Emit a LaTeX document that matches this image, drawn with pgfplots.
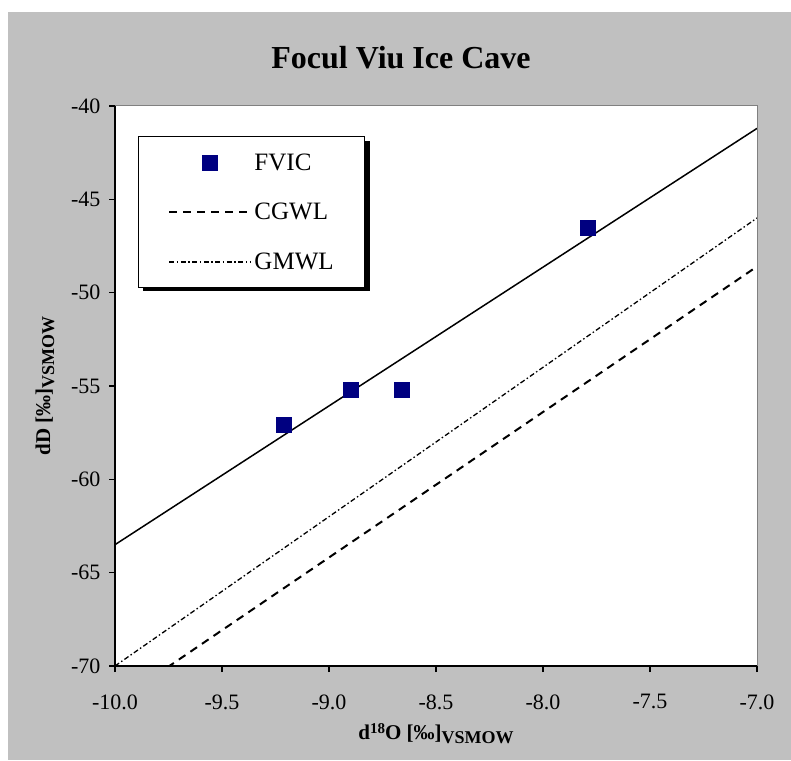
\documentclass[border=0pt]{standalone}
\usepackage{fontspec}
\setmainfont{Liberation Serif}
\usepackage{pgfplots}
\pgfplotsset{compat=1.18}

\definecolor{chartgray}{HTML}{C0C0C0}
\definecolor{framegray}{HTML}{808080}
\definecolor{fvicblue}{HTML}{000080}

\begin{document}
\begin{tikzpicture}[x=1pt,y=1pt]
\useasboundingbox (0,0) rectangle (791,760);
\fill[white] (0,0) rectangle (791,760);
\fill[chartgray] (8,0) rectangle (791,748);
\node[font=\fontsize{32}{38}\selectfont\bfseries] at (401,702) {Focul Viu Ice Cave};
\node[font=\fontsize{21}{25}\selectfont\bfseries, rotate=90] at (45,374)
  {dD [‰]\raisebox{-4pt}{\fontsize{18}{20}\selectfont VSMOW}};
\node[font=\fontsize{21}{25}\selectfont\bfseries] at (436,26)
  {d\raisebox{6pt}{\fontsize{15}{17}\selectfont 18}O [‰]\raisebox{-4pt}{\fontsize{18}{20}\selectfont VSMOW}};
\begin{axis}[
  at={(115pt,94pt)}, anchor=south west,
  scale only axis, width=642pt, height=560pt,
  xmin=-10, xmax=-7, ymin=-70, ymax=-40,
  axis lines*=left,
  axis line style={line width=1.6pt, -},
  axis background/.style={fill=white},
  xtick={-10,-9.5,-9,-8.5,-8,-7.5,-7},
  xticklabels={-10.0,-9.5,-9.0,-8.5,-8.0,-7.5,-7.0},
  ytick={-70,-65,-60,-55,-50,-45,-40},
  yticklabels={-70,-65,-60,-55,-50,-45,-40},
  tick style={black, line width=1.4pt},
  tick align=outside, major tick length=6pt,
  ticklabel style={font=\fontsize{22}{26}\selectfont},
  xticklabel style={yshift=-19pt},
  yticklabel style={xshift=-5pt},
  clip=true,
  legend cell align=left,
  legend image code/.code={%
    \draw[mark repeat=2,mark phase=2,#1] plot coordinates {(0pt,0pt)(41pt,0pt)(82pt,0pt)};},
  legend style={
    at={(0.0358,0.946)}, anchor=north west,
    draw=black, line width=1pt, fill=white,
    inner xsep=30pt, inner ysep=17pt,
    row sep=31.5pt, column sep=2pt,
    nodes={inner xsep=0pt, inner ysep=0pt, text width=80pt, align=left},
    font=\fontsize{25}{30}\selectfont,
  },
  after end axis/.code={
    \draw[framegray, line width=1pt] (rel axis cs:0,1) -- (rel axis cs:1,1) -- (rel axis cs:1,0);
  },
]
% drop shadow of the legend box
\fill[black] (rel axis cs:0.0436,0.9375) rectangle (rel axis cs:0.3972,0.6696);
% regression line through the cave samples
\addplot[black, line width=1.5pt, forget plot] coordinates {(-10,-63.5) (-7,-41.2)};
% FVIC samples
\addplot[only marks, mark=square*, mark size=7.5pt, fvicblue, mark options={fill=fvicblue, draw=fvicblue}]
  coordinates {(-9.21,-57.1) (-8.90,-55.2) (-8.66,-55.2) (-7.79,-46.5)};
\addlegendentry{FVIC}
% CGWL
\addplot[black, line width=2pt, dash pattern=on 8pt off 6pt]
  coordinates {(-9.81,-70.5) (-7,-48.6)};
\addlegendentry{CGWL}
% GMWL
\addplot[black, line width=1.3pt, dash pattern=on 5pt off 2.5pt on 1.5pt off 2.5pt]
  coordinates {(-10,-70) (-7,-46)};
\addlegendentry{GMWL}
\end{axis}
\end{tikzpicture}
\end{document}
